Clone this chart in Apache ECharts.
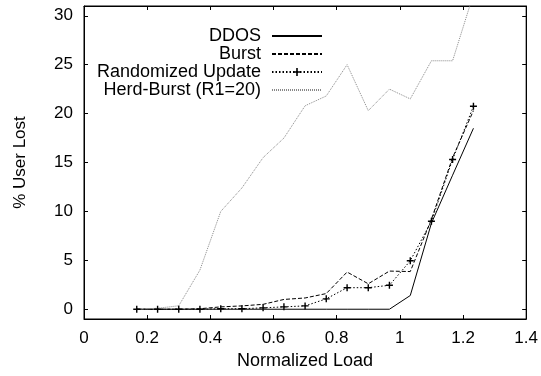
<!DOCTYPE html>
<html>
<head>
<meta charset="utf-8">
<script src="https://cdn.jsdelivr.net/npm/echarts@6/dist/echarts.min.js"></script>
<style>
  html, body { margin: 0; padding: 0; background: #fff; }
  #chart { width: 541px; height: 376px; }
</style>
</head>
<body>
<div id="chart"></div>
<script>
// normalized load (x)
const loadValues = [0.167, 0.233, 0.3, 0.367, 0.433, 0.5, 0.567, 0.633, 0.7, 0.767, 0.833, 0.9, 0.967, 1.033, 1.1, 1.167, 1.233];
// % user lost per scheme
const ddosLost = [0, 0, 0, 0, 0, 0, 0, 0, 0, 0, 0, 0, 0, 1.4, 8.8, 13.7, 18.5];
const burstLost = [0, 0, 0, 0.05, 0.24, 0.34, 0.5, 1.0, 1.15, 1.6, 3.8, 2.6, 3.9, 3.85, 9.2, 15.5, 20.3];
const randomizedLost = [0, 0, 0, 0, 0.05, 0.05, 0.14, 0.24, 0.34, 1.06, 2.2, 2.2, 2.45, 4.95, 9.0, 15.3, 20.75];
const herdLost = [0, 0.1, 0.35, 4.0, 10.0, 12.4, 15.5, 17.5, 20.8, 21.8, 25.0, 20.3, 22.5, 21.5, 25.4, 25.4, 32.2];
const yTicks = [0, 5, 10, 15, 20, 25, 30];

const font = 'Liberation Sans';
const pairs = (ys) => loadValues.map((x, i) => [x, ys[i]]);
const plus = 'path://M4,0 H6 V4 H10 V6 H6 V10 H4 V6 H0 V4 H4 Z';
const noMark = { opacity: 0 };

const chart = echarts.init(document.getElementById('chart'));
chart.setOption({
  animation: false,
  grid: {
    left: 84, right: 14, top: 6, bottom: 57,
    show: true, borderColor: '#000', borderWidth: 1,
  },
  legend: {
    orient: 'vertical',
    right: 213,
    top: 22,
    align: 'right',
    itemWidth: 50,
    itemHeight: 10,
    itemGap: 0,
    textStyle: { fontFamily: font, fontSize: 18, color: '#000', lineHeight: 18, padding: [0, 6, 0, 0] },
    data: [
      { name: 'DDOS', itemStyle: noMark },
      { name: 'Burst', itemStyle: noMark },
      { name: 'Randomized Update' },
      { name: 'Herd-Burst (R1=20)', itemStyle: noMark },
    ],
  },
  xAxis: [{
    type: 'value',
    min: 0, max: 1.4, interval: 0.2,
    name: 'Normalized Load',
    nameLocation: 'middle',
    nameGap: 27,
    nameTextStyle: { fontFamily: font, fontSize: 18, color: '#000' },
    axisLine: { show: true, onZero: false, lineStyle: { color: '#000' } },
    axisTick: { inside: true, length: 4, lineStyle: { color: '#000' } },
    axisLabel: { fontFamily: font, fontSize: 17, color: '#000', margin: 11 },
    splitLine: { show: false },
  }, {
    type: 'value',
    position: 'top',
    min: 0, max: 1.4, interval: 0.2,
    axisLine: { show: true, onZero: false, lineStyle: { color: '#000' } },
    axisTick: { inside: true, length: 4, lineStyle: { color: '#000' } },
    axisLabel: { show: false },
    splitLine: { show: false },
  }],
  yAxis: [{
    type: 'value',
    min: -1, max: 31,
    name: '% User Lost',
    nameLocation: 'middle',
    nameRotate: 90,
    nameGap: 55,
    nameTextStyle: { fontFamily: font, fontSize: 17, color: '#000' },
    axisLine: { show: true, onZero: false, lineStyle: { color: '#000' } },
    axisTick: { inside: true, length: 4, customValues: yTicks, lineStyle: { color: '#000' } },
    axisLabel: { fontFamily: font, fontSize: 17, color: '#000', margin: 11, customValues: yTicks },
    splitLine: { show: false },
  }, {
    type: 'value',
    position: 'right',
    min: -1, max: 31,
    axisLine: { show: true, onZero: false, lineStyle: { color: '#000' } },
    axisTick: { inside: true, length: 4, customValues: yTicks, lineStyle: { color: '#000' } },
    axisLabel: { show: false },
    splitLine: { show: false },
  }],
  series: [
    {
      name: 'DDOS', type: 'line', data: pairs(ddosLost),
      symbol: 'none', color: '#000',
      lineStyle: { color: '#000', width: 1, type: 'solid' },
    },
    {
      name: 'Burst', type: 'line', data: pairs(burstLost),
      symbol: 'none', color: '#000',
      lineStyle: { color: '#000', width: 1, type: [4, 2] },
    },
    {
      name: 'Randomized Update', type: 'line', data: pairs(randomizedLost),
      symbol: plus, symbolSize: 7, color: '#000',
      itemStyle: { color: '#000' },
      lineStyle: { color: '#000', width: 1, type: [1.5, 2] },
    },
    {
      name: 'Herd-Burst (R1=20)', type: 'line', data: pairs(herdLost),
      symbol: 'none', color: '#888',
      lineStyle: { color: '#888', width: 1, type: [1, 1] },
    },
  ],
});
</script>
</body>
</html>
